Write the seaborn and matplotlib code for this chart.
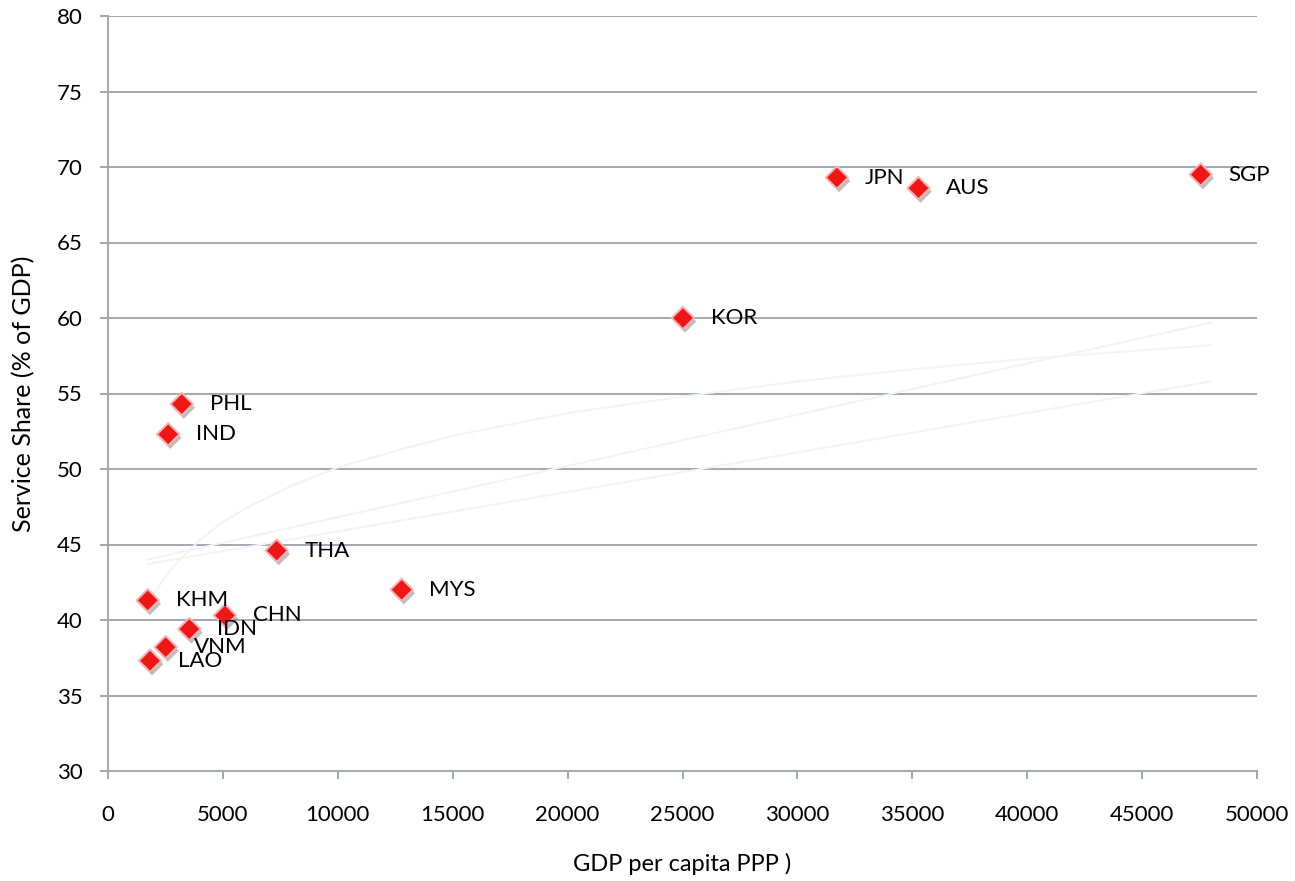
import matplotlib
matplotlib.use("Agg")
import matplotlib.pyplot as plt
import matplotlib.patheffects as pe
import seaborn as sns
import pandas as pd

# ---- data ----
countries = ["SGP", "JPN", "AUS", "KOR", "PHL", "IND", "THA", "MYS",
             "KHM", "CHN", "IDN", "VNM", "LAO"]
gdp_pc = [47550, 31720, 35270, 25020, 3210, 2620, 7340, 12780,
          1730, 5090, 3540, 2510, 1830]
service_share = [69.5, 69.3, 68.6, 60.0, 54.3, 52.3, 44.6, 42.0,
                 41.3, 40.3, 39.4, 38.2, 37.3]

# faint trend lines (hidden series in the original)
trend_a_x = [1700, 48000]
trend_a_y = [44.0, 59.7]
trend_b_x = [1700, 48000]
trend_b_y = [43.7, 55.8]
trend_log_x = [1740, 2000, 2500, 3000, 4000, 5000, 6000, 8000, 10000, 12500,
               15000, 20000, 25000, 30000, 35000, 40000, 48000]
trend_log_y = [41.0, 41.7, 42.9, 43.8, 45.3, 46.5, 47.4, 48.9, 50.1, 51.2,
               52.2, 53.7, 54.8, 55.8, 56.6, 57.3, 58.2]

x_ticks = list(range(0, 50001, 5000))
y_ticks = list(range(30, 81, 5))

x_title = "GDP per capita PPP )"
y_title = "Service Share (% of GDP)"

# ---- styling ----
sns.set_theme(style="white")
plt.rcParams["font.family"] = ["Lato", "DejaVu Sans"]
FS = 16
GRID = "#a3a7b0"

df = pd.DataFrame({"country": countries, "gdp": gdp_pc, "share": service_share})

fig = plt.figure(figsize=(12.95, 8.81), dpi=100)
ax = fig.add_axes([108 / 1295, 1 - 771 / 881, (1257 - 108) / 1295, (771 - 16) / 881])

ax.set_xlim(0, 50000)
ax.set_ylim(30, 80)
ax.set_yticks(y_ticks)
ax.set_xticks(x_ticks)
ax.set_xticklabels([str(v) for v in x_ticks], fontsize=FS)
ax.set_yticklabels([str(v) for v in y_ticks], fontsize=FS)

ax.yaxis.grid(True, color=GRID, linewidth=1.4, zorder=0)
ax.xaxis.grid(False)
ax.set_axisbelow(True)
for s in ["top", "right"]:
    ax.spines[s].set_visible(False)
for s in ["left", "bottom"]:
    ax.spines[s].set_color(GRID)
    ax.spines[s].set_linewidth(1.4)

ax.tick_params(axis="y", which="major", direction="out", length=6, width=1.4,
               color=GRID, pad=12, left=True, labelcolor="black")
ax.tick_params(axis="x", which="major", direction="out", length=5.5, width=1.4,
               color=GRID, pad=19, bottom=True, labelcolor="black")

# trend lines (very faint)
tcol = "#f3f3f3"
for tx, ty in [(trend_a_x, trend_a_y), (trend_b_x, trend_b_y), (trend_log_x, trend_log_y)]:
    sns.lineplot(x=tx, y=ty, ax=ax, color=tcol, linewidth=1.4, sort=False,
                 estimator=None, zorder=2, legend=False)

# scatter markers
sns.scatterplot(data=df, x="gdp", y="share", ax=ax, marker="D", s=130,
                color="#f01616", edgecolor="#f6b3b3", linewidth=1.4, zorder=4,
                legend=False)
coll = ax.collections[-1]
coll.set_path_effects([pe.SimplePatchShadow(offset=(1.5, -2.5), shadow_rgbFace="#6f6f6f",
                                            alpha=0.45),
                       pe.Normal()])

for c, xv, yv in zip(countries, gdp_pc, service_share):
    ax.annotate(c, (xv, yv), xytext=(20, 0), textcoords="offset points",
                ha="left", va="center", fontsize=FS, color="black", zorder=5)

ax.set_xlabel(x_title, fontsize=17, color="black", labelpad=20)
ax.set_ylabel(y_title, fontsize=18, color="black", labelpad=16)

fig.savefig("out.png", dpi=100)
